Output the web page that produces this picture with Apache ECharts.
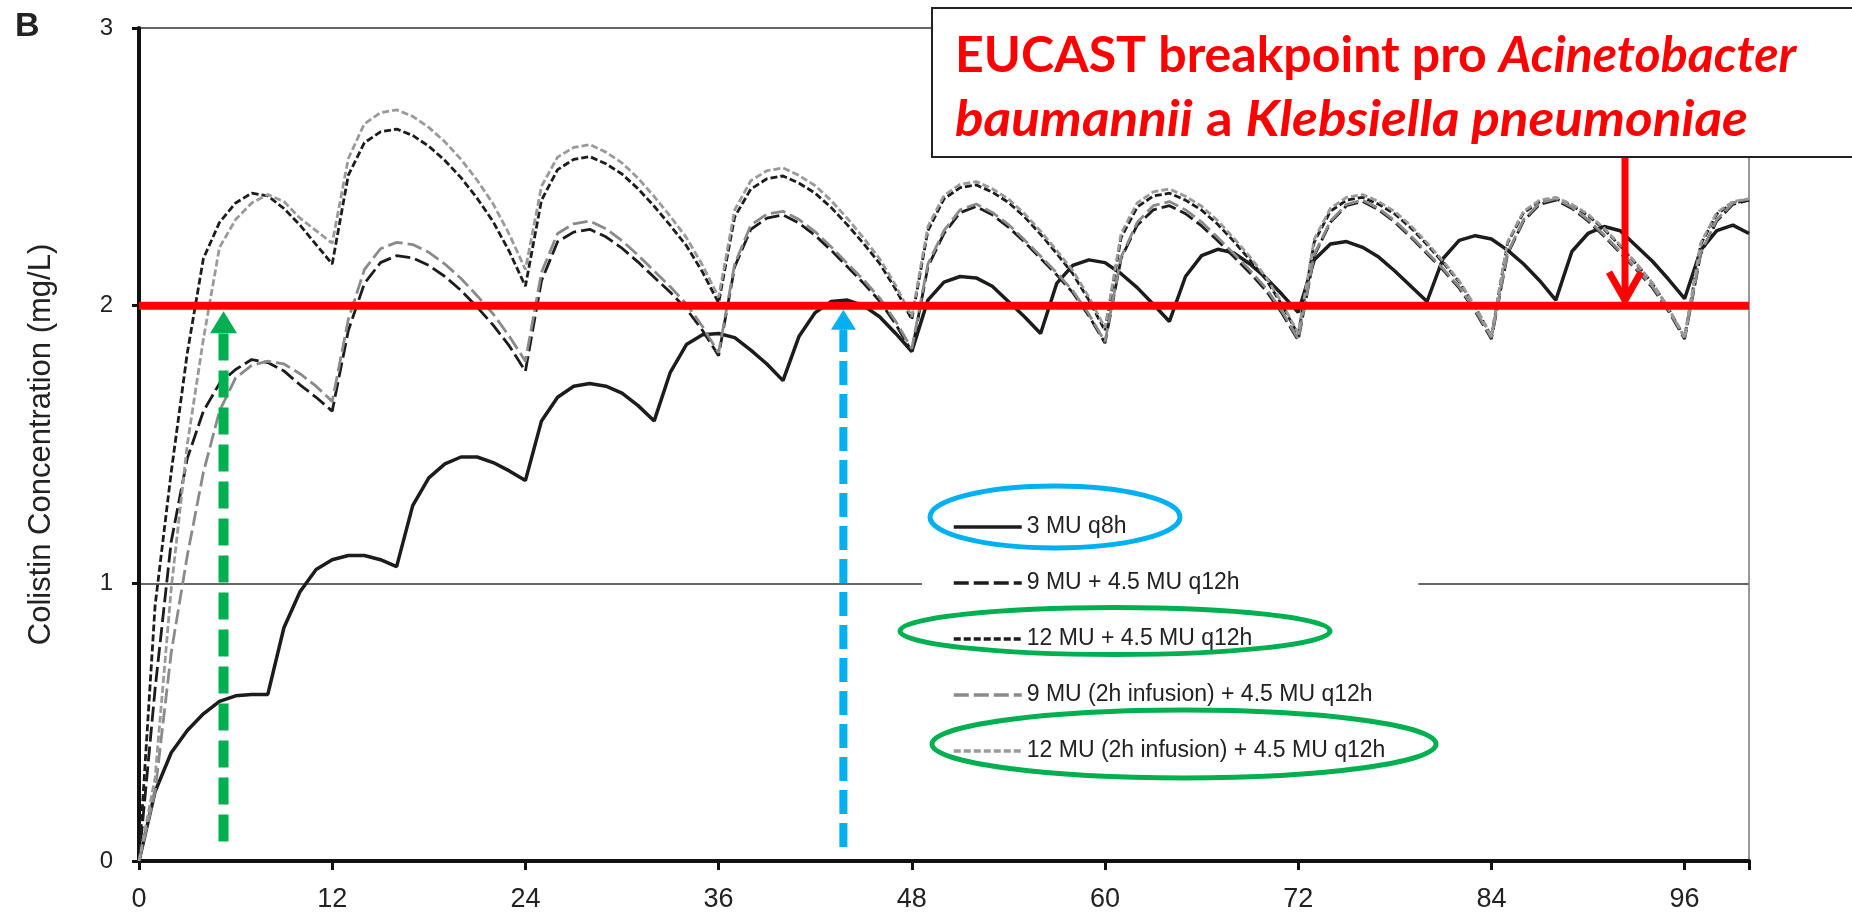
<!DOCTYPE html>
<html>
<head>
<meta charset="utf-8">
<title>Colistin concentration</title>
<script src="https://cdn.jsdelivr.net/npm/echarts@6/dist/echarts.min.js"></script>
<style>
	html, body { margin: 0; padding: 0; background: #fff; }
	#chartDom { width: 1852px; height: 917px; }
</style>
</head>
<body>
<div id="chartDom"></div>
<script>
// hourly colistin concentration (mg/L), array index = hour (0..100)
var mu3q8h = [0, 0.25, 0.39, 0.47, 0.53, 0.575, 0.595, 0.60, 0.60,
	0.84, 0.97, 1.05, 1.085, 1.10, 1.10, 1.085, 1.06,
	1.28, 1.38, 1.43, 1.455, 1.455, 1.435, 1.405, 1.37,
	1.585, 1.67, 1.71, 1.72, 1.71, 1.685, 1.64, 1.585,
	1.76, 1.86, 1.895, 1.90, 1.885, 1.84, 1.79, 1.73,
	1.89, 1.975, 2.015, 2.02, 2.0, 1.96, 1.90, 1.835,
	2.02, 2.085, 2.105, 2.10, 2.07, 2.015, 1.96, 1.90,
	2.08, 2.145, 2.165, 2.155, 2.115, 2.065, 2.005, 1.943,
	2.105, 2.18, 2.203, 2.19, 2.15, 2.10, 2.04, 1.976,
	2.165, 2.222, 2.231, 2.21, 2.175, 2.125, 2.07, 2.015,
	2.17, 2.235, 2.252, 2.24, 2.20, 2.15, 2.09, 2.02,
	2.195, 2.26, 2.285, 2.27, 2.215, 2.16, 2.095, 2.025,
	2.20, 2.27, 2.29, 2.26];

var mu9q12h = [0, 0.62, 1.15, 1.45, 1.62, 1.72, 1.77, 1.806, 1.795, 1.765, 1.715, 1.67, 1.62,
	1.91, 2.08, 2.155, 2.18, 2.172, 2.145, 2.105, 2.055, 1.995, 1.93, 1.855, 1.764,
	2.09, 2.23, 2.265, 2.275, 2.248, 2.207, 2.157, 2.102, 2.048, 1.988, 1.911, 1.82,
	2.14, 2.275, 2.315, 2.327, 2.297, 2.253, 2.199, 2.14, 2.081, 2.017, 1.933, 1.835,
	2.14, 2.26, 2.335, 2.357, 2.327, 2.283, 2.229, 2.17, 2.111, 2.047, 1.963, 1.865,
	2.17, 2.29, 2.345, 2.36, 2.331, 2.287, 2.234, 2.176, 2.118, 2.054, 1.972, 1.875,
	2.18, 2.30, 2.36, 2.375, 2.345, 2.301, 2.246, 2.187, 2.128, 2.063, 1.979, 1.88,
	2.185, 2.305, 2.365, 2.38, 2.35, 2.305, 2.25, 2.19, 2.13, 2.065, 1.98, 1.88,
	2.185, 2.305, 2.365, 2.38];

var mu12q12h = [0, 0.92, 1.40, 1.83, 2.17, 2.30, 2.37, 2.405, 2.395, 2.35, 2.29, 2.22, 2.15,
	2.47, 2.587, 2.626, 2.636, 2.613, 2.574, 2.523, 2.461, 2.387, 2.302, 2.195, 2.07,
	2.38, 2.49, 2.527, 2.537, 2.511, 2.474, 2.421, 2.358, 2.289, 2.216, 2.121, 2.01,
	2.32, 2.42, 2.457, 2.467, 2.441, 2.405, 2.353, 2.291, 2.224, 2.152, 2.059, 1.95,
	2.27, 2.385, 2.425, 2.435, 2.409, 2.372, 2.32, 2.257, 2.188, 2.115, 2.02, 1.91,
	2.245, 2.355, 2.395, 2.405, 2.38, 2.344, 2.293, 2.232, 2.165, 2.094, 2.002, 1.895,
	2.23, 2.34, 2.38, 2.39, 2.365, 2.33, 2.28, 2.22, 2.155, 2.085, 1.995, 1.89,
	2.225, 2.335, 2.375, 2.385, 2.36, 2.325, 2.275, 2.215, 2.15, 2.08, 1.99, 1.885,
	2.22, 2.33, 2.37, 2.38];

var mu9inf2h = [0, 0.25, 0.75, 1.10, 1.40, 1.62, 1.74, 1.785, 1.80, 1.79, 1.755, 1.71, 1.655,
	1.95, 2.13, 2.205, 2.228, 2.22, 2.192, 2.15, 2.098, 2.036, 1.97, 1.89, 1.80,
	2.12, 2.26, 2.295, 2.305, 2.277, 2.234, 2.182, 2.125, 2.068, 2.006, 1.925, 1.83,
	2.15, 2.29, 2.33, 2.34, 2.31, 2.266, 2.211, 2.152, 2.093, 2.028, 1.944, 1.845,
	2.15, 2.27, 2.345, 2.366, 2.336, 2.292, 2.237, 2.178, 2.118, 2.054, 1.969, 1.87,
	2.175, 2.30, 2.36, 2.375, 2.345, 2.301, 2.246, 2.187, 2.128, 2.063, 1.979, 1.88,
	2.185, 2.305, 2.365, 2.38, 2.35, 2.306, 2.251, 2.192, 2.133, 2.068, 1.984, 1.885,
	2.19, 2.31, 2.37, 2.385, 2.355, 2.31, 2.255, 2.195, 2.135, 2.07, 1.985, 1.885,
	2.19, 2.31, 2.37, 2.385];

var mu12inf2h = [0, 0.30, 0.98, 1.50, 1.88, 2.21, 2.31, 2.37, 2.40, 2.375, 2.315, 2.27, 2.225,
	2.53, 2.655, 2.695, 2.705, 2.682, 2.642, 2.59, 2.527, 2.452, 2.366, 2.257, 2.13,
	2.43, 2.535, 2.57, 2.58, 2.553, 2.514, 2.459, 2.393, 2.322, 2.245, 2.146, 2.03,
	2.345, 2.45, 2.486, 2.496, 2.469, 2.432, 2.378, 2.314, 2.244, 2.169, 2.073, 1.96,
	2.285, 2.397, 2.437, 2.447, 2.421, 2.384, 2.331, 2.268, 2.199, 2.126, 2.031, 1.92,
	2.26, 2.37, 2.41, 2.42, 2.394, 2.358, 2.306, 2.243, 2.176, 2.103, 2.009, 1.90,
	2.24, 2.35, 2.39, 2.40, 2.375, 2.339, 2.288, 2.227, 2.16, 2.089, 1.997, 1.89,
	2.23, 2.34, 2.38, 2.39, 2.365, 2.329, 2.279, 2.218, 2.153, 2.082, 1.991, 1.885,
	2.225, 2.335, 2.375, 2.385];

var seriesNames = ['3 MU q8h', '9 MU + 4.5 MU q12h', '12 MU + 4.5 MU q12h',
	'9 MU (2h infusion) + 4.5 MU q12h', '12 MU (2h infusion) + 4.5 MU q12h'];

var hourMax = 100;
var hourStep = 12;
var concMax = 3;
var breakpoint = 2;

// annotation arrows: [hour, from value, to value]
var greenArrow = [5.25, 0.07, 1.98];
var blueArrow = [43.75, 0.05, 1.985];
var redArrow = [92.3, 2.6, 2.02];

var FONT = 'Liberation Sans';

function hourly(arr) {
	return arr.map(function(v, h) {
		return [h, v];
	});
}

var chart = echarts.init(document.getElementById('chartDom'));

function curve(name, values, color, width, dash) {
	return {
		name: name,
		type: 'line',
		data: hourly(values),
		symbol: 'none',
		showSymbol: false,
		silent: true,
		lineStyle: {
			color: color,
			width: width,
			type: dash
		},
		itemStyle: {
			color: color
		},
		z: 2
	};
}

var option = {
	animation: false,
	backgroundColor: '#fff',
	grid: {
		left: 139,
		right: 103,
		top: 28,
		bottom: 56,
		outerBoundsMode: 'none'
	},
	legend: {
		orient: 'vertical',
		left: 922,
		top: 489,
		data: seriesNames,
		itemWidth: 68,
		itemHeight: 14,
		itemGap: 30,
		padding: [25, 33, 25, 30],
		backgroundColor: '#fff',
		selectedMode: false,
		itemStyle: {
			opacity: 0
		},
		lineStyle: {
			width: 3.5
		},
		textStyle: {
			fontFamily: FONT,
			fontSize: 23,
			lineHeight: 26,
			color: '#222'
		}
	},
	xAxis: {
		type: 'value',
		min: 0,
		max: hourMax,
		interval: hourStep,
		axisLine: {
			show: true,
			onZero: false,
			lineStyle: {
				color: '#111',
				width: 4
			}
		},
		axisTick: {
			show: true,
			length: 9,
			lineStyle: {
				color: '#111',
				width: 3
			}
		},
		axisLabel: {
			fontFamily: FONT,
			fontSize: 27,
			color: '#222',
			margin: 25,
			formatter: function(v) {
				return v % hourStep === 0 ? String(v) : '';
			}
		},
		splitLine: {
			show: false
		}
	},
	yAxis: [{
		type: 'value',
		min: 0,
		max: concMax,
		interval: 1,
		name: 'Colistin Concentration (mg/L)',
		nameLocation: 'middle',
		nameGap: 82,
		nameTextStyle: {
			fontFamily: FONT,
			fontSize: 31,
			color: '#222'
		},
		axisLine: {
			show: true,
			lineStyle: {
				color: '#111',
				width: 4
			}
		},
		axisTick: {
			show: true,
			length: 7,
			lineStyle: {
				color: '#111',
				width: 3
			}
		},
		axisLabel: {
			fontFamily: FONT,
			fontSize: 24,
			color: '#222',
			margin: 26
		},
		splitLine: {
			show: true,
			lineStyle: {
				color: '#333',
				width: 1.5
			}
		}
	}, {
		type: 'value',
		position: 'right',
		min: 0,
		max: concMax,
		interval: 1,
		axisLine: {
			show: true,
			lineStyle: {
				color: '#777',
				width: 1.5
			}
		},
		axisTick: {
			show: false
		},
		axisLabel: {
			show: false
		},
		splitLine: {
			show: false
		}
	}],
	series: [
		curve(seriesNames[0], mu3q8h, '#1c1c1c', 3.5, 'solid'),
		curve(seriesNames[1], mu9q12h, '#1c1c1c', 2.8, [15, 5]),
		curve(seriesNames[2], mu12q12h, '#1c1c1c', 2.8, [7, 3]),
		curve(seriesNames[3], mu9inf2h, '#8a8a8a', 2.8, [15, 5]),
		curve(seriesNames[4], mu12inf2h, '#9a9a9a', 2.8, [7, 3]),
		{
			name: 'EUCAST breakpoint',
			type: 'line',
			data: [[0, breakpoint], [hourMax, breakpoint]],
			symbol: 'none',
			silent: true,
			lineStyle: {
				color: '#ff0000',
				width: 8
			},
			z: 5
		}
	]
};
chart.setOption(option);

function px(h, v) {
	return chart.convertToPixel({ gridIndex: 0 }, [h, v]);
}

function dashedArrow(a, color, width, dash, headW, headH) {
	var p0 = px(a[0], a[1]);
	var tip = px(a[0], a[2]);
	return [{
		type: 'line',
		z: 20,
		silent: true,
		shape: { x1: p0[0], y1: p0[1], x2: tip[0], y2: tip[1] + headH },
		style: { stroke: color, lineWidth: width, lineDash: dash }
	}, {
		type: 'polygon',
		z: 20,
		silent: true,
		shape: { points: [[tip[0], tip[1]], [tip[0] - headW / 2, tip[1] + headH], [tip[0] + headW / 2, tip[1] + headH]] },
		style: { fill: color }
	}];
}

var rTop = px(redArrow[0], redArrow[1]);
var rTip = px(redArrow[0], redArrow[2]);

var titleRich = {
	b: { fontFamily: 'Lato', fontWeight: 'bold', fontSize: 50, fill: '#ff0000', color: '#ff0000' },
	bi: { fontFamily: 'Lato', fontWeight: 'bold', fontStyle: 'italic', fontSize: 50, fill: '#ff0000', color: '#ff0000' }
};

var graphics = []
	.concat(dashedArrow(greenArrow, '#00b050', 10, [27, 10], 27, 22))
	.concat(dashedArrow(blueArrow, '#00b0f0', 8, [24, 9], 25, 20))
	.concat([{
		type: 'line',
		z: 25,
		silent: true,
		shape: { x1: rTop[0], y1: rTop[1], x2: rTip[0], y2: rTip[1] - 4 },
		style: { stroke: '#ff0000', lineWidth: 7 }
	}, {
		type: 'polyline',
		z: 25,
		silent: true,
		shape: { points: [[rTip[0] - 16, rTip[1] - 28], [rTip[0], rTip[1]], [rTip[0] + 16, rTip[1] - 28]] },
		style: { stroke: '#ff0000', lineWidth: 7, fill: null, lineJoin: 'miter' }
	}, {
		type: 'ellipse',
		z: 30,
		silent: true,
		shape: { cx: 1055, cy: 517, rx: 125, ry: 31 },
		style: { fill: null, stroke: '#00b0f0', lineWidth: 5 }
	}, {
		type: 'ellipse',
		z: 30,
		silent: true,
		shape: { cx: 1115, cy: 631, rx: 215, ry: 23.5 },
		style: { fill: null, stroke: '#00b050', lineWidth: 5 }
	}, {
		type: 'ellipse',
		z: 30,
		silent: true,
		shape: { cx: 1184, cy: 744, rx: 252, ry: 34 },
		style: { fill: null, stroke: '#00b050', lineWidth: 5 }
	}, {
		type: 'rect',
		z: 40,
		silent: true,
		shape: { x: 932, y: 8, width: 940, height: 149 },
		style: { fill: '#fff', stroke: '#222', lineWidth: 2 }
	}, {
		type: 'text',
		z: 41,
		silent: true,
		x: 955,
		y: 56,
		style: {
			text: '{b|EUCAST breakpoint pro }{bi|Acinetobacter}',
			rich: titleRich,
			verticalAlign: 'middle',
			align: 'left'
		}
	}, {
		type: 'text',
		z: 41,
		silent: true,
		x: 955,
		y: 120,
		scaleX: 1.06,
		style: {
			text: '{bi|baumannii}{b| a }{bi|Klebsiella pneumoniae}',
			rich: titleRich,
			verticalAlign: 'middle',
			align: 'left'
		}
	}, {
		type: 'text',
		z: 41,
		silent: true,
		x: 15,
		y: 10,
		style: {
			text: 'B',
			fontFamily: FONT,
			fontWeight: 'bold',
			fontSize: 34,
			fill: '#222',
			verticalAlign: 'top'
		}
	}]);

chart.setOption({ graphic: graphics });
</script>
</body>
</html>
